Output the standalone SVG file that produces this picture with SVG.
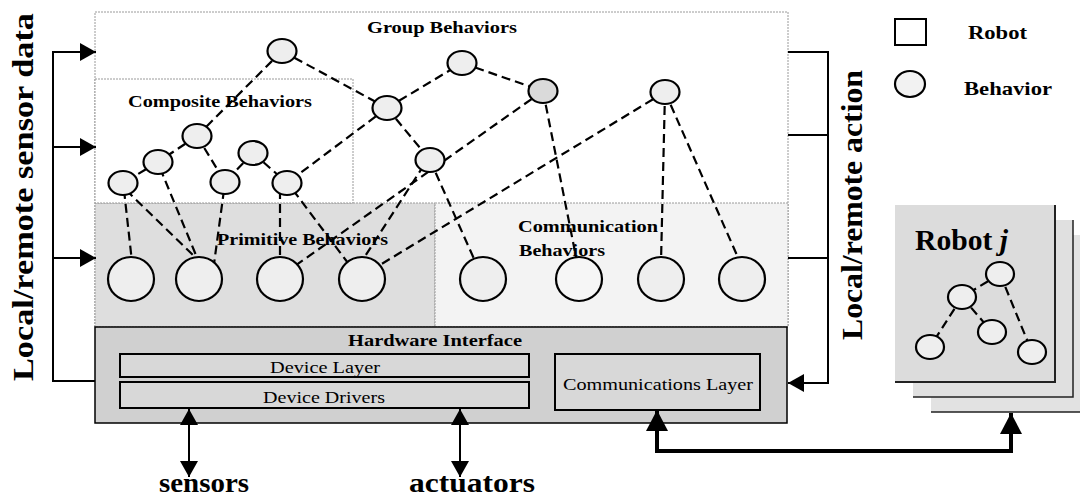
<svg xmlns="http://www.w3.org/2000/svg" width="1080" height="499" viewBox="0 0 1080 499">
<style>
.t{font-family:"Liberation Serif","Times New Roman",serif;fill:#000}
.b{font-weight:bold}
.n{fill:#eeeeee;stroke:#000;stroke-width:2.2}
.e{stroke:#000;stroke-width:2.2;stroke-dasharray:9 5;fill:none}
.l{stroke:#000;stroke-width:2;fill:none}
.thick{stroke:#000;stroke-width:4;fill:none}
.region{stroke:#9a9a9a;stroke-width:1;stroke-dasharray:2 1}
</style>
<defs>
<marker id="ah" markerUnits="userSpaceOnUse" viewBox="0 0 16 18" refX="16" refY="9" markerWidth="16" markerHeight="18" orient="auto-start-reverse">
<path d="M0,0 L16,9 L0,18 z" fill="#000"/>
</marker>
<marker id="ahb" markerUnits="userSpaceOnUse" viewBox="0 0 21 22" refX="21" refY="11" markerWidth="21" markerHeight="22" orient="auto-start-reverse">
<path d="M0,0 L21,11 L0,22 z" fill="#000"/>
</marker>
</defs>
<rect width="1080" height="499" fill="#fff"/>

<!-- Robot container regions -->
<g id="robot">
<rect x="95" y="12" width="693" height="315" fill="#fff" class="region"/>
<rect id="primitive-region" x="95" y="203" width="340" height="124" fill="#dedede" class="region"/>
<rect id="communication-region" x="435" y="203" width="353" height="124" fill="#f3f3f3" class="region"/>
<rect id="composite-region" x="95" y="79" width="258" height="124" fill="#fff" class="region"/>
<text class="t b" x="367" y="33" font-size="17" textLength="150" lengthAdjust="spacingAndGlyphs">Group Behaviors</text>
<text class="t b" x="128" y="107" font-size="17" textLength="184" lengthAdjust="spacingAndGlyphs">Composite Behaviors</text>
</g>

<!-- Hardware interface -->
<g id="hardware-interface">
<rect x="95" y="327" width="692" height="96" fill="#d0d0d0" stroke="#000" stroke-width="1.5"/>
<text class="t b" x="348" y="346" font-size="16" textLength="174" lengthAdjust="spacingAndGlyphs">Hardware Interface</text>
</g>
<g id="device-layer">
<rect x="120" y="354" width="409" height="23" fill="#d8d8d8" stroke="#000" stroke-width="2"/>
<text class="t" x="270" y="373" font-size="17" textLength="110" lengthAdjust="spacingAndGlyphs">Device Layer</text>
</g>
<g id="device-drivers">
<rect x="120" y="382" width="409" height="26" fill="#d8d8d8" stroke="#000" stroke-width="2"/>
<text class="t" x="263" y="403" font-size="17" textLength="122" lengthAdjust="spacingAndGlyphs">Device Drivers</text>
</g>
<g id="communications-layer">
<rect x="555" y="354" width="205" height="56" fill="#d8d8d8" stroke="#000" stroke-width="2"/>
<text class="t" x="563" y="390" font-size="17" textLength="190" lengthAdjust="spacingAndGlyphs">Communications Layer</text>
</g>

<!-- Robot j stack -->
<g id="robot-j">
<path d="M931,235 H1091 V412 H931 Z" fill="#e2e2e2"/>
<path d="M1091,235 V412 H931" fill="none" stroke="#222" stroke-width="1.5"/>
<path d="M913,220 H1073 V397 H913 Z" fill="#e0e0e0"/>
<path d="M1073,220 V397 H913" fill="none" stroke="#222" stroke-width="1.5"/>
<path d="M895,205 H1055 V382 H895 Z" fill="#dcdcdc"/>
<path d="M1055,205 V382 H895" fill="none" stroke="#222" stroke-width="2"/>
<text class="t b" x="915" y="250" font-size="30" textLength="93" lengthAdjust="spacingAndGlyphs">Robot <tspan font-style="italic">j</tspan></text>
</g>

<!-- Connectors -->
<g id="connectors">
<!-- behavior hierarchy (dashed) -->
<line class="e" x1="282" y1="51" x2="197" y2="136"/>
<line class="e" x1="282" y1="51" x2="387" y2="108"/>
<line class="e" x1="387" y1="108" x2="462" y2="63"/>
<line class="e" x1="462" y1="63" x2="543" y2="91"/>
<line class="e" x1="387" y1="108" x2="430" y2="160"/>
<line class="e" x1="387" y1="108" x2="287" y2="183"/>
<line class="e" x1="197" y1="136" x2="158" y2="162"/>
<line class="e" x1="197" y1="136" x2="225" y2="182"/>
<line class="e" x1="253" y1="153" x2="225" y2="182"/>
<line class="e" x1="253" y1="153" x2="287" y2="183"/>
<line class="e" x1="158" y1="162" x2="123" y2="183"/>
<line class="e" x1="124" y1="190" x2="132" y2="262"/>
<line class="e" x1="126" y1="190" x2="198" y2="260"/>
<line class="e" x1="160" y1="168" x2="198" y2="260"/>
<line class="e" x1="224" y1="190" x2="214" y2="264"/>
<line class="e" x1="280" y1="190" x2="280" y2="262"/>
<line class="e" x1="293" y1="190" x2="348" y2="263"/>
<line class="e" x1="424" y1="165" x2="360" y2="264"/>
<line class="e" x1="430" y1="160" x2="483" y2="279"/>
<line class="e" x1="543" y1="91" x2="292" y2="268"/>
<line class="e" x1="543" y1="91" x2="577" y2="262"/>
<line class="e" x1="665" y1="92" x2="375" y2="268"/>
<line class="e" x1="665" y1="92" x2="661" y2="262"/>
<line class="e" x1="665" y1="92" x2="740" y2="262"/>
<!-- sensor data feedback (left) -->
<polyline class="l" points="95,381 53,381 53,52 96,52" marker-end="url(#ah)"/>
<line class="l" x1="53" y1="147" x2="96" y2="147" marker-end="url(#ah)"/>
<line class="l" x1="53" y1="258" x2="96" y2="258" marker-end="url(#ah)"/>
<!-- action (right) -->
<polyline class="l" points="788,52 828,52 828,383 788,383" marker-end="url(#ah)"/>
<line class="l" x1="788" y1="135" x2="828" y2="135"/>
<line class="l" x1="788" y1="258" x2="828" y2="258"/>
<!-- sensors / actuators -->
<line class="l" x1="189" y1="409" x2="189" y2="477" marker-start="url(#ah)" marker-end="url(#ah)"/>
<line class="l" x1="460" y1="409" x2="460" y2="477" marker-start="url(#ah)" marker-end="url(#ah)"/>
<!-- inter-robot communication -->
<polyline class="thick" points="657,410 657,451 1011,451 1011,413" marker-start="url(#ahb)" marker-end="url(#ahb)"/>
<!-- robot j internal -->
<line class="e" x1="1000" y1="274" x2="962" y2="297"/>
<line class="e" x1="1000" y1="274" x2="1032" y2="352"/>
<line class="e" x1="962" y1="297" x2="930" y2="347"/>
<line class="e" x1="962" y1="297" x2="992" y2="332"/>
</g>

<!-- Group behavior nodes -->
<g id="g1"><ellipse class="n" cx="282" cy="51" rx="14.5" ry="12"/></g>
<g id="g2"><ellipse class="n" cx="462" cy="63" rx="14.5" ry="12"/></g>
<g id="g3"><ellipse class="n" cx="387" cy="108" rx="14.5" ry="12"/></g>
<g id="g4"><ellipse class="n" cx="543" cy="91" rx="14.5" ry="12" style="fill:#dadada"/></g>
<g id="g5"><ellipse class="n" cx="665" cy="92" rx="14.5" ry="12"/></g>
<g id="g6"><ellipse class="n" cx="430" cy="160" rx="14.5" ry="12"/></g>
<!-- Composite behavior nodes -->
<g id="c1"><ellipse class="n" cx="197" cy="136" rx="14.5" ry="12"/></g>
<g id="c2"><ellipse class="n" cx="158" cy="162" rx="14.5" ry="12"/></g>
<g id="c3"><ellipse class="n" cx="253" cy="153" rx="14.5" ry="12"/></g>
<g id="c4"><ellipse class="n" cx="123" cy="183" rx="14.5" ry="12"/></g>
<g id="c5"><ellipse class="n" cx="225" cy="182" rx="14.5" ry="12"/></g>
<g id="c6"><ellipse class="n" cx="287" cy="183" rx="14.5" ry="12"/></g>
<!-- Primitive behavior nodes -->
<g id="p1"><ellipse class="n" cx="131" cy="279" rx="23" ry="22"/></g>
<g id="p2"><ellipse class="n" cx="199" cy="279" rx="23" ry="22"/></g>
<g id="p3"><ellipse class="n" cx="280" cy="279" rx="23" ry="22"/></g>
<g id="p4"><ellipse class="n" cx="362" cy="279" rx="23" ry="22"/></g>
<!-- Communication behavior nodes -->
<g id="m1"><ellipse class="n" cx="483" cy="279" rx="23" ry="22"/></g>
<g id="m2"><ellipse class="n" cx="579" cy="279" rx="23" ry="22" style="fill:#f6f6f6"/></g>
<g id="m3"><ellipse class="n" cx="661" cy="279" rx="23" ry="22"/></g>
<g id="m4"><ellipse class="n" cx="742" cy="279" rx="23" ry="22"/></g>
<!-- Robot j behavior nodes -->
<g id="rj1"><ellipse class="n" cx="1000" cy="274" rx="14" ry="12"/></g>
<g id="rj2"><ellipse class="n" cx="962" cy="297" rx="14" ry="12"/></g>
<g id="rj3"><ellipse class="n" cx="992" cy="332" rx="14" ry="12"/></g>
<g id="rj4"><ellipse class="n" cx="930" cy="347" rx="14" ry="12"/></g>
<g id="rj5"><ellipse class="n" cx="1032" cy="352" rx="14" ry="12"/></g>

<!-- Region labels drawn above lines -->
<g id="labels">
<text class="t b" x="217" y="245" font-size="17" textLength="171" lengthAdjust="spacingAndGlyphs">Primitive Behaviors</text>
<text class="t b" x="518" y="232" font-size="17" textLength="140" lengthAdjust="spacingAndGlyphs">Communication</text>
<text class="t b" x="519" y="256" font-size="17" textLength="86" lengthAdjust="spacingAndGlyphs">Behaviors</text>
<text class="t b" font-size="30" textLength="368" lengthAdjust="spacingAndGlyphs" text-anchor="middle" transform="translate(33,197) rotate(-90)">Local/remote sensor data</text>
<text class="t b" font-size="30" textLength="270" lengthAdjust="spacingAndGlyphs" text-anchor="middle" transform="translate(862,205) rotate(-90)">Local/remote action</text>
<text class="t b" x="159" y="492" font-size="28" textLength="90" lengthAdjust="spacingAndGlyphs">sensors</text>
<text class="t b" x="409" y="492" font-size="28" textLength="126" lengthAdjust="spacingAndGlyphs">actuators</text>
</g>

<!-- Legend -->
<g id="legend-robot">
<rect x="895" y="19" width="31" height="26" fill="#fff" stroke="#000" stroke-width="2"/>
<text class="t b" x="968" y="39" font-size="19" textLength="59" lengthAdjust="spacingAndGlyphs">Robot</text>
</g>
<g id="legend-behavior">
<ellipse class="n" cx="910" cy="84" rx="15" ry="13" style="fill:#f2f2f2"/>
<text class="t b" x="964" y="95" font-size="19" textLength="88" lengthAdjust="spacingAndGlyphs">Behavior</text>
</g>
</svg>
